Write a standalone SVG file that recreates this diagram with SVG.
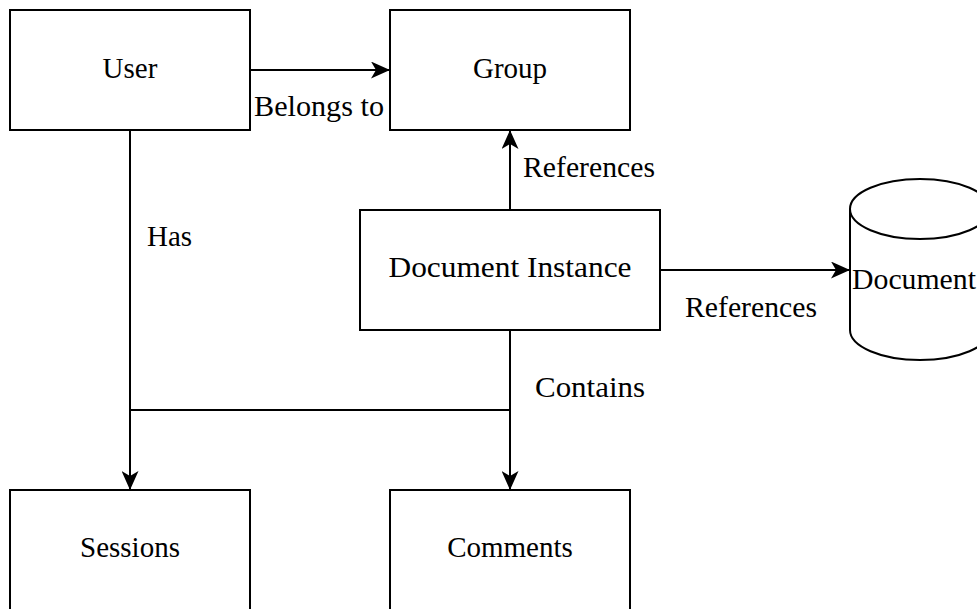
<svg xmlns="http://www.w3.org/2000/svg" width="977" height="609" viewBox="0 0 977 609">
<style>
.box{fill:#fff;stroke:#000;stroke-width:2}
.ln{fill:none;stroke:#000;stroke-width:2}
.c{text-anchor:middle}
</style>
<defs>
<marker id="ah" markerWidth="19" markerHeight="17" refX="18" refY="8.5" orient="auto" markerUnits="userSpaceOnUse">
<path d="M19,8.5 L0,0 L5,8.5 L0,17 Z" fill="#000"/>
</marker>
</defs>
<rect width="977" height="609" fill="#fff"/>
<g id="connectors">
<path class="ln" d="M250,70 H389" marker-end="url(#ah)"/>
<text x="254" y="116" font-family="Liberation Serif" font-size="29" textLength="130" lengthAdjust="spacingAndGlyphs">Belongs to</text>
<path class="ln" d="M510,210 V131" marker-end="url(#ah)"/>
<text x="523" y="177" font-family="Liberation Serif" font-size="29" textLength="132" lengthAdjust="spacingAndGlyphs">References</text>
<path class="ln" d="M660,270 H849" marker-end="url(#ah)"/>
<text x="685" y="317" font-family="Liberation Serif" font-size="29" textLength="132" lengthAdjust="spacingAndGlyphs">References</text>
<path class="ln" d="M130,130 V489" marker-end="url(#ah)"/>
<text x="147" y="246" font-family="Liberation Serif" font-size="29">Has</text>
<path class="ln" d="M510,330 V489" marker-end="url(#ah)"/>
<path class="ln" d="M130,410 H510"/>
<text x="535" y="397" font-family="Liberation Serif" font-size="29" textLength="110" lengthAdjust="spacingAndGlyphs">Contains</text>
</g>
<g id="user"><rect class="box" x="10" y="10" width="240" height="120"/><text class="c" x="130" y="78" font-family="Liberation Serif" font-size="29">User</text></g>
<g id="group"><rect class="box" x="390" y="10" width="240" height="120"/><text class="c" x="510" y="78" font-family="Liberation Serif" font-size="29">Group</text></g>
<g id="docinstance"><rect class="box" x="360" y="210" width="300" height="120"/><text class="c" x="510" y="277" font-family="Liberation Serif" font-size="29" textLength="243" lengthAdjust="spacingAndGlyphs">Document Instance</text></g>
<g id="document">
<path class="box" d="M850,209 V330 A70,30 0 0 0 990,330 V209"/>
<ellipse class="box" cx="920" cy="209" rx="70" ry="30"/>
<text x="852" y="289" font-family="Liberation Serif" font-size="29" textLength="124" lengthAdjust="spacingAndGlyphs">Document</text>
</g>
<g id="sessions"><rect class="box" x="10" y="490" width="240" height="140"/><text class="c" x="130" y="557" font-family="Liberation Serif" font-size="29">Sessions</text></g>
<g id="comments"><rect class="box" x="390" y="490" width="240" height="140"/><text class="c" x="510" y="557" font-family="Liberation Serif" font-size="29">Comments</text></g>
</svg>
